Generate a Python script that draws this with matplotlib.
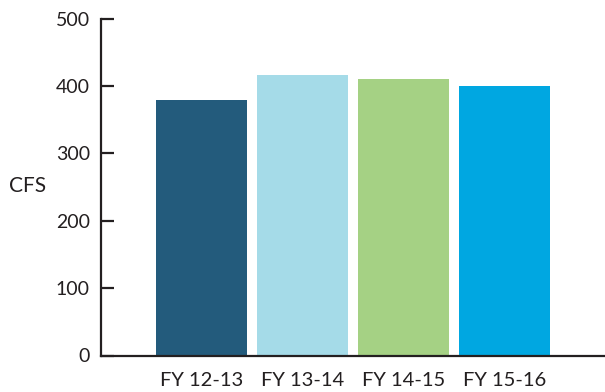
import matplotlib
matplotlib.use("Agg")
import matplotlib.pyplot as plt

categories = ["FY 12-13", "FY 13-14", "FY 14-15", "FY 15-16"]
values = [380, 417, 411, 400]
colors = ["#235B7C", "#A5DBE8", "#A5D184", "#00A7E1"]
yticks = [0, 100, 200, 300, 400, 500]

plt.rcParams['font.family'] = ['Lato', 'DejaVu Sans']
txt = "#231F20"

fig = plt.figure(figsize=(6.05, 3.92), dpi=100)
ax = fig.add_axes([101/605, 36.5/392, 504/605, 336.8/392])
x = list(range(len(categories)))
ax.bar(x, values, width=0.905, color=colors)
ax.set_xlim(-1, 4)
ax.set_ylim(0, 500)
ax.set_yticks(yticks)
ax.set_yticklabels([str(v) for v in yticks])
ax.set_xticks(x)
ax.set_xticklabels(categories)
for s in ["top", "right"]:
    ax.spines[s].set_visible(False)
for s in ["left", "bottom"]:
    ax.spines[s].set_linewidth(1.6)
    ax.spines[s].set_color(txt)
ax.tick_params(axis='y', direction='in', length=9, width=1.6, color=txt,
               labelsize=14, labelcolor=txt, pad=8)
ax.tick_params(axis='x', length=0, labelsize=14.5, labelcolor=txt, pad=12)
fig.text(9/605, 1 - 186/392, "CFS", fontsize=15, color=txt, va='center', ha='left')
fig.savefig("out.png", dpi=100)
